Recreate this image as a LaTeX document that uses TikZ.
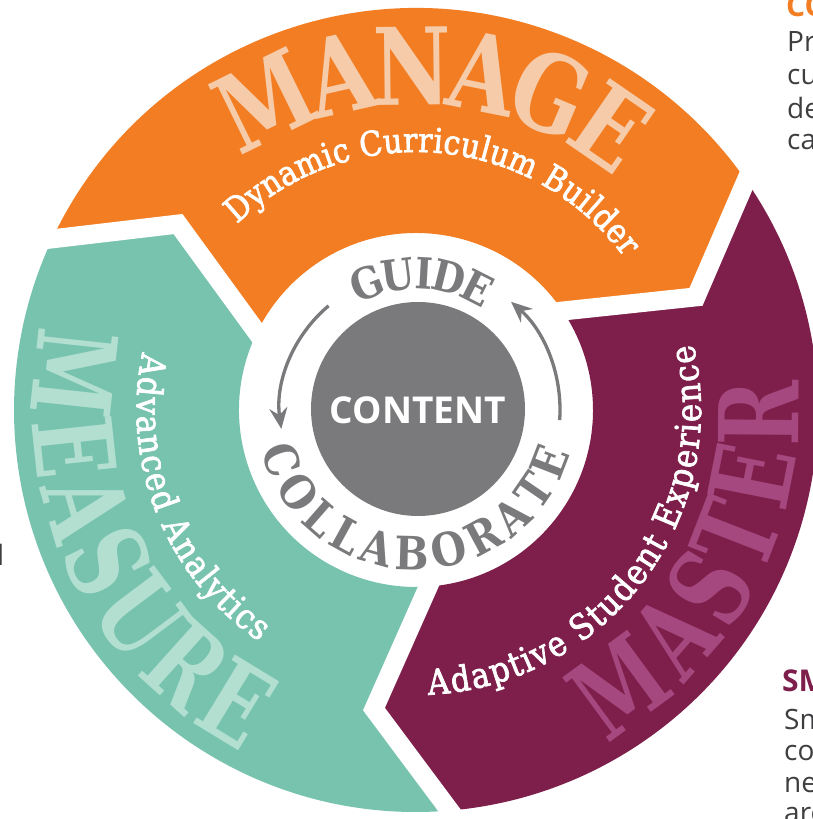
\documentclass[tikz,border=0pt]{standalone}
\usepackage{fontspec}
\usetikzlibrary{decorations.text,arrows.meta,calc}
\newfontfamily\bigslab[FakeStretch=0.8]{DejaVu Serif}
\newfontfamily\sideslab[FakeStretch=0.72]{DejaVu Serif}
\newfontfamily\midslab[FakeStretch=0.88]{DejaVu Serif}
\newfontfamily\subslab[FakeStretch=0.88,FakeBold=2]{DejaVu Serif}
\newfontfamily\osans{Open Sans}
\definecolor{orng}{HTML}{F27D22}
\definecolor{mrn}{HTML}{7E1E4B}
\definecolor{tl}{HTML}{77C3AE}
\definecolor{gry}{HTML}{7A7A7D}
\definecolor{peach}{HTML}{F6CBA9}
\definecolor{lteal}{HTML}{B3DFD1}
\definecolor{pink}{HTML}{A4487F}
\definecolor{body}{HTML}{3E3E40}
\tikzset{
  gap/.style={white, line width=19pt, line join=miter},
  curved/.style={decorate, decoration={text along path, text align=fit to path, #1}},
  rtxt/.style={inner sep=0pt, anchor=base west, text=body, font=\osans\fontsize{28}{28}\selectfont},
  rhead/.style={inner sep=0pt, anchor=base west, font=\osans\bfseries\fontsize{30}{30}\selectfont},
  cyc/.style={gry, line width=3.3pt, -{Stealth[length=21pt,width=18pt,inset=7pt]}}
}
\begin{document}
\begin{tikzpicture}[x=1pt,y=1pt]
\useasboundingbox (0,0) rectangle (813,819);
\clip (0,0) rectangle (813,819);
\fill[white] (0,0) rectangle (813,819);
\coordinate (c) at (416,409);
\begin{scope}[shift={(c)}]
  % segments
  \fill[orng] (154.8:402) arc[start angle=154.8, end angle=34.8, radius=402]
     -- (22:302) -- (34:177) arc[start angle=34, end angle=154, radius=177]
     -- (142:302) -- cycle;
  \fill[mrn] (34.8:402) arc[start angle=34.8, end angle=-85.2, radius=402]
     -- (-98:302) -- (-86:177) arc[start angle=-86, end angle=34, radius=177]
     -- (22:302) -- cycle;
  \fill[tl] (274.8:402) arc[start angle=274.8, end angle=154.8, radius=402]
     -- (142:302) -- (154:177) arc[start angle=154, end angle=274, radius=177]
     -- (262:302) -- cycle;
  % white chevron gaps
  \foreach \b in {22,142,262} {
    \draw[gap] ($({\b}:302)!1.35!({\b+12.8}:402)$) -- ({\b}:302)
       -- ($({\b}:302)!1.5!({\b+12}:177)$);
  }
  % centre
  \fill[gry] (2,1) circle[radius=107];
  \node[inner sep=0pt, text=white, font=\osans\bfseries\fontsize{37}{37}\selectfont] (content) at (2,0) {CONTENT};
  % cycle arrows
  \draw[cyc] (130:136) arc[start angle=130, end angle=188, radius=136];
  \draw[cyc] (-4:144) arc[start angle=-4, end angle=48.7, radius=144];
  % inner ring words
  \path[curved={text={|\midslab\bfseries\fontsize{43}{43}\selectfont|GUIDE}, text color=gry, raise=-15pt}]
     (118:136) arc[start angle=118, end angle=58, radius=136];
  \path[curved={text={|\midslab\bfseries\fontsize{46}{46}\selectfont|COLLABORATE}, text color=gry, raise=-17pt}]
     (194:143) arc[start angle=194, end angle=345, radius=143];
  % big words
  \path[curved={text={|\bigslab\bfseries\fontsize{107}{107}\selectfont|MANAGE}, text color=peach, raise=-39pt}]
     (124:344) arc[start angle=124, end angle=53.5, radius=344];
  \path[curved={text={|\sideslab\bfseries\fontsize{110}{110}\selectfont|MEASURE}, text color=lteal, raise=-40pt}]
     (166.5:343) arc[start angle=166.5, end angle=242.5, radius=343];
  \path[curved={text={|\sideslab\bfseries\fontsize{110}{110}\selectfont|MASTER}, text color=pink, raise=-40pt}]
     (299:343) arc[start angle=299, end angle=365, radius=343];
  % subtitles
  \path[curved={text={|\subslab\fontsize{34}{34}\selectfont|Dynamic Curriculum Builder}, text color=white, raise=-12pt}]
     (133.8:270) arc[start angle=133.8, end angle=36.3, radius=270];
  \path[curved={text={|\subslab\fontsize{35}{35}\selectfont|Advanced Analytics}, text color=white, raise=-12.5pt}]
     (168:267) arc[start angle=168, end angle=236, radius=267];
  \path[curved={text={|\subslab\fontsize{35}{35}\selectfont|Adaptive Student Experience}, text color=white, raise=-13pt}]
     (272.4:272) arc[start angle=272.4, end angle=373.5, radius=272];
\end{scope}
% cut-off neighbouring texts
\node[rhead, text=orng] (co) at (786,802) {CO};
\node[rtxt] (pr) at (787,767) {Pr};
\node[rtxt] (cu) at (787,734) {cu};
\node[rtxt] (de) at (787,700) {de};
\node[rtxt] (ca) at (787,669) {ca};
\node[rhead, text=mrn] (sm) at (782,127) {SM};
\node[rtxt] (sm2) at (784,89) {Sm};
\node[rtxt] (cor) at (784,58) {cor};
\node[rtxt] (nee) at (784,27) {nee};
\node[rtxt] (are) at (784,-4) {are};
\node[rtxt, anchor=base east] (lft) at (4.5,253) {l};
\end{tikzpicture}
\end{document}
